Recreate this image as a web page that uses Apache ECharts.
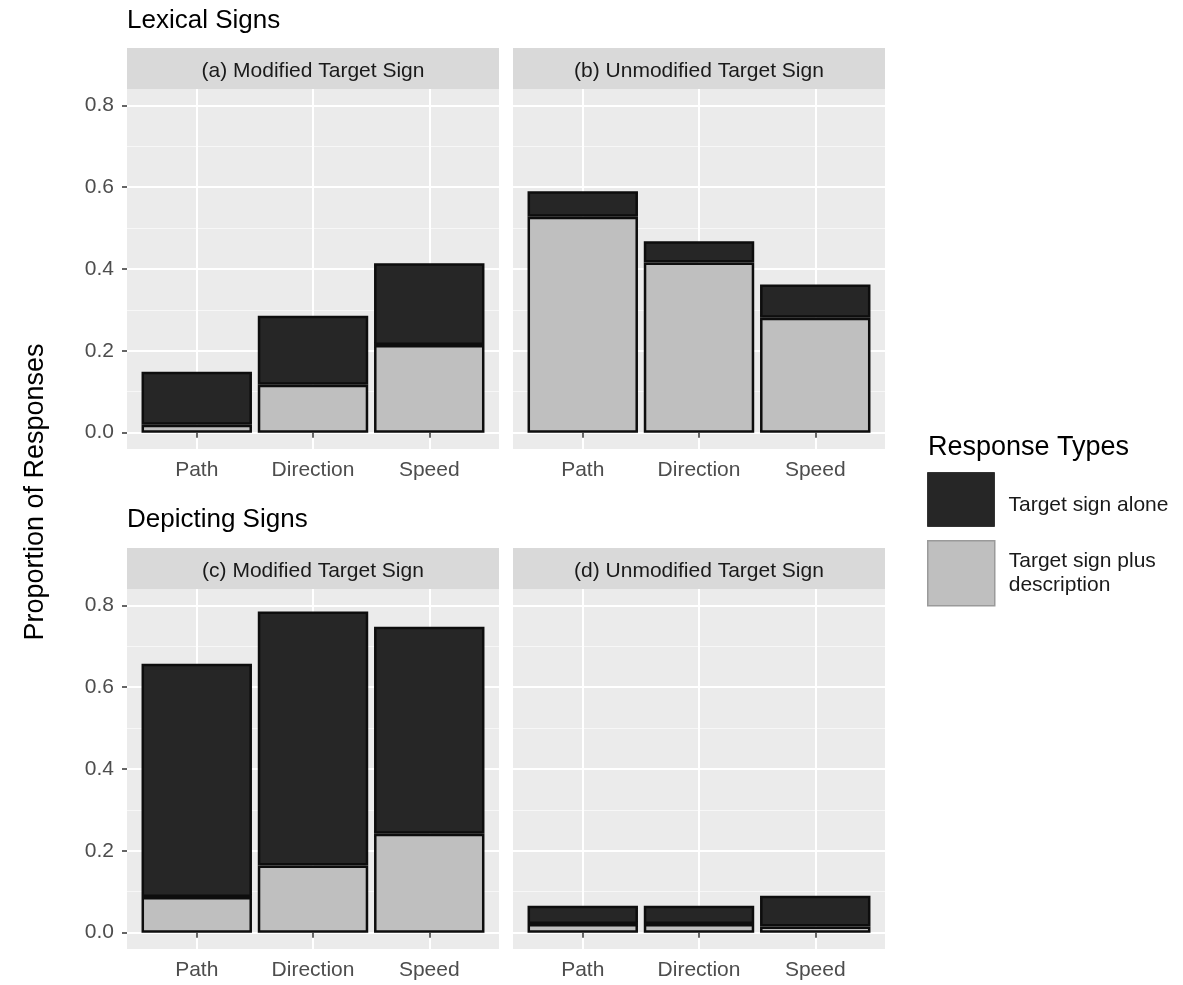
<!DOCTYPE html>
<html>
<head>
<meta charset="utf-8">
<script src="https://cdn.jsdelivr.net/npm/echarts@6/dist/echarts.min.js"></script>
<style>
  html, body { margin: 0; padding: 0; background: #ffffff; }
  #chart { width: 1183px; height: 985px; }
</style>
</head>
<body>
<div id="chart"></div>
<script>
// Categories and facet titles
const categories = ['Path', 'Direction', 'Speed'];
const panelTitles = ['(a) Modified Target Sign', '(b) Unmodified Target Sign',
                     '(c) Modified Target Sign', '(d) Unmodified Target Sign'];
const rowTitles = ['Lexical Signs', 'Depicting Signs'];
const seriesNames = ['Target sign alone', 'Target sign plus description'];
const legendTitle = 'Response Types';
const yAxisTitle = 'Proportion of Responses';

// Proportions per panel: bottom segment (plus description) and top segment (alone)
const plusA  = [0.019, 0.117, 0.214];
const aloneA = [0.130, 0.169, 0.200];
const plusB  = [0.528, 0.416, 0.281];
const aloneB = [0.062, 0.052, 0.081];
const plusC  = [0.087, 0.164, 0.242];
const aloneC = [0.570, 0.621, 0.506];
const plusD  = [0.021, 0.021, 0.015];
const aloneD = [0.045, 0.045, 0.075];

// Axis breaks
const yTicks = [0, 0.2, 0.4, 0.6, 0.8];
const yMinor = [0.1, 0.3, 0.5, 0.7];
const xTicks = [1, 2, 3];

const plusSets = [plusA, plusB, plusC, plusD];
const aloneSets = [aloneA, aloneB, aloneC, aloneD];

// Layout of the four facet panels
const panelLeft = [127, 513, 127, 513];
const panelTop = [89, 89, 589, 589];
const panelW = 372, panelH = 360;
const stripH = 41;

const FONT = '"Liberation Sans", Arial, Helvetica, sans-serif';
const DARK = '#262626', LIGHT = '#bfbfbf';

const grids = [], xAxes = [], yAxes = [], series = [], graphics = [];

for (let p = 0; p < 4; p++) {
  const showY = p % 2 === 0;
  grids.push({
    left: panelLeft[p], top: panelTop[p], width: panelW, height: panelH,
    show: true, backgroundColor: '#ebebeb', borderWidth: 0
  });
  xAxes.push({
    type: 'value', gridIndex: p, min: 0.4, max: 3.6,
    axisLine: { show: false },
    axisTick: { show: true, customValues: xTicks, length: 5,
                lineStyle: { color: '#333333', width: 1.5 } },
    axisLabel: { customValues: xTicks, margin: 11, fontSize: 21, color: '#4d4d4d',
                 fontFamily: FONT,
                 formatter: v => categories[Math.round(v) - 1] },
    splitLine: { show: true, lineStyle: { color: '#ffffff', width: 2 } }
  });
  // major y gridlines with labels
  yAxes.push({
    type: 'value', gridIndex: p, min: -0.04, max: 0.84,
    axisLine: { show: false },
    axisTick: { show: showY, customValues: yTicks, length: 5,
                lineStyle: { color: '#333333', width: 1.5 } },
    axisLabel: { show: showY, customValues: yTicks, margin: 13, fontSize: 21,
                 color: '#4d4d4d', fontFamily: FONT,
                 formatter: v => v.toFixed(1) },
    splitLine: { show: true, lineStyle: { color: '#ffffff', width: 2 } }
  });
  // minor y gridlines
  yAxes.push({
    type: 'value', gridIndex: p, min: -0.04, max: 0.84, position: 'right',
    axisLine: { show: false },
    axisTick: { show: false, customValues: yMinor },
    axisLabel: { show: false, customValues: yMinor },
    splitLine: { show: true, lineStyle: { color: '#f7f7f7', width: 1 } }
  });

  // value first, category position second, so the stack sums along y
  series.push({
    type: 'bar', name: seriesNames[1], xAxisIndex: p, yAxisIndex: 2 * p,
    stack: 'panel' + p, barWidth: '95%', encode: { x: 1, y: 0 },
    data: plusSets[p].map((v, k) => [v, xTicks[k]]),
    itemStyle: { color: LIGHT, borderColor: '#0d0d0d', borderWidth: 2.5 },
    emphasis: { disabled: true }
  });
  series.push({
    type: 'bar', name: seriesNames[0], xAxisIndex: p, yAxisIndex: 2 * p,
    stack: 'panel' + p, barWidth: '95%', encode: { x: 1, y: 0 },
    data: aloneSets[p].map((v, k) => [v, xTicks[k]]),
    itemStyle: { color: DARK, borderColor: '#0d0d0d', borderWidth: 2.5 },
    emphasis: { disabled: true }
  });

  // facet strip
  const stripTop = panelTop[p] - stripH;
  graphics.push({
    type: 'rect', silent: true,
    shape: { x: panelLeft[p], y: stripTop, width: panelW, height: stripH },
    style: { fill: '#d9d9d9' }
  });
  graphics.push({
    type: 'text', silent: true,
    style: { x: panelLeft[p] + panelW / 2, y: stripTop + stripH / 2 + 3,
             text: panelTitles[p], fill: '#1a1a1a', font: '21px ' + FONT,
             textAlign: 'center', textVerticalAlign: 'middle' }
  });
}

// row titles
graphics.push({
  type: 'text', silent: true,
  style: { x: 127, y: 21, text: rowTitles[0], fill: '#000000', font: '26px ' + FONT,
           textAlign: 'left', textVerticalAlign: 'middle' }
});
graphics.push({
  type: 'text', silent: true,
  style: { x: 127, y: 520, text: rowTitles[1], fill: '#000000', font: '26px ' + FONT,
           textAlign: 'left', textVerticalAlign: 'middle' }
});
// shared y axis title
graphics.push({
  type: 'text', silent: true, x: 36, y: 492, rotation: Math.PI / 2,
  style: { x: 0, y: 0, text: yAxisTitle, fill: '#000000', font: '27px ' + FONT,
           textAlign: 'center', textVerticalAlign: 'middle' }
});
// legend title
graphics.push({
  type: 'text', silent: true,
  style: { x: 928, y: 448, text: legendTitle, fill: '#000000', font: '27px ' + FONT,
           textAlign: 'left', textVerticalAlign: 'middle' }
});

const option = {
  animation: false,
  backgroundColor: '#ffffff',
  grid: grids,
  xAxis: xAxes,
  yAxis: yAxes,
  series: series,
  legend: [
    {
      left: 927, top: 472, padding: 0, orient: 'vertical', selectedMode: false,
      data: [seriesNames[0]], icon: 'rect', itemWidth: 67, itemHeight: 54,
      itemStyle: { borderColor: '#333333', borderWidth: 1 },
      formatter: name => '{t|' + name + '}',
      textStyle: { fontSize: 21, color: '#1a1a1a', fontFamily: FONT,
                   rich: { t: { fontSize: 21, color: '#1a1a1a', fontFamily: FONT,
                                padding: [12, 0, 0, 9] } } }
    },
    {
      left: 927, top: 540, padding: 0, orient: 'vertical', selectedMode: false,
      data: [seriesNames[1]], icon: 'rect', itemWidth: 67, itemHeight: 65,
      itemStyle: { borderColor: '#9a9a9a', borderWidth: 1.5 },
      formatter: () => '{t|Target sign plus}\n{t|description}',
      textStyle: { fontSize: 21, color: '#1a1a1a', fontFamily: FONT,
                   rich: { t: { fontSize: 21, lineHeight: 24, color: '#1a1a1a',
                                fontFamily: FONT, padding: [0, 0, 0, 9] } } }
    }
  ],
  graphic: graphics
};

const chart = echarts.init(document.getElementById('chart'), null, { renderer: 'canvas' });
chart.setOption(option);
</script>
</body>
</html>
